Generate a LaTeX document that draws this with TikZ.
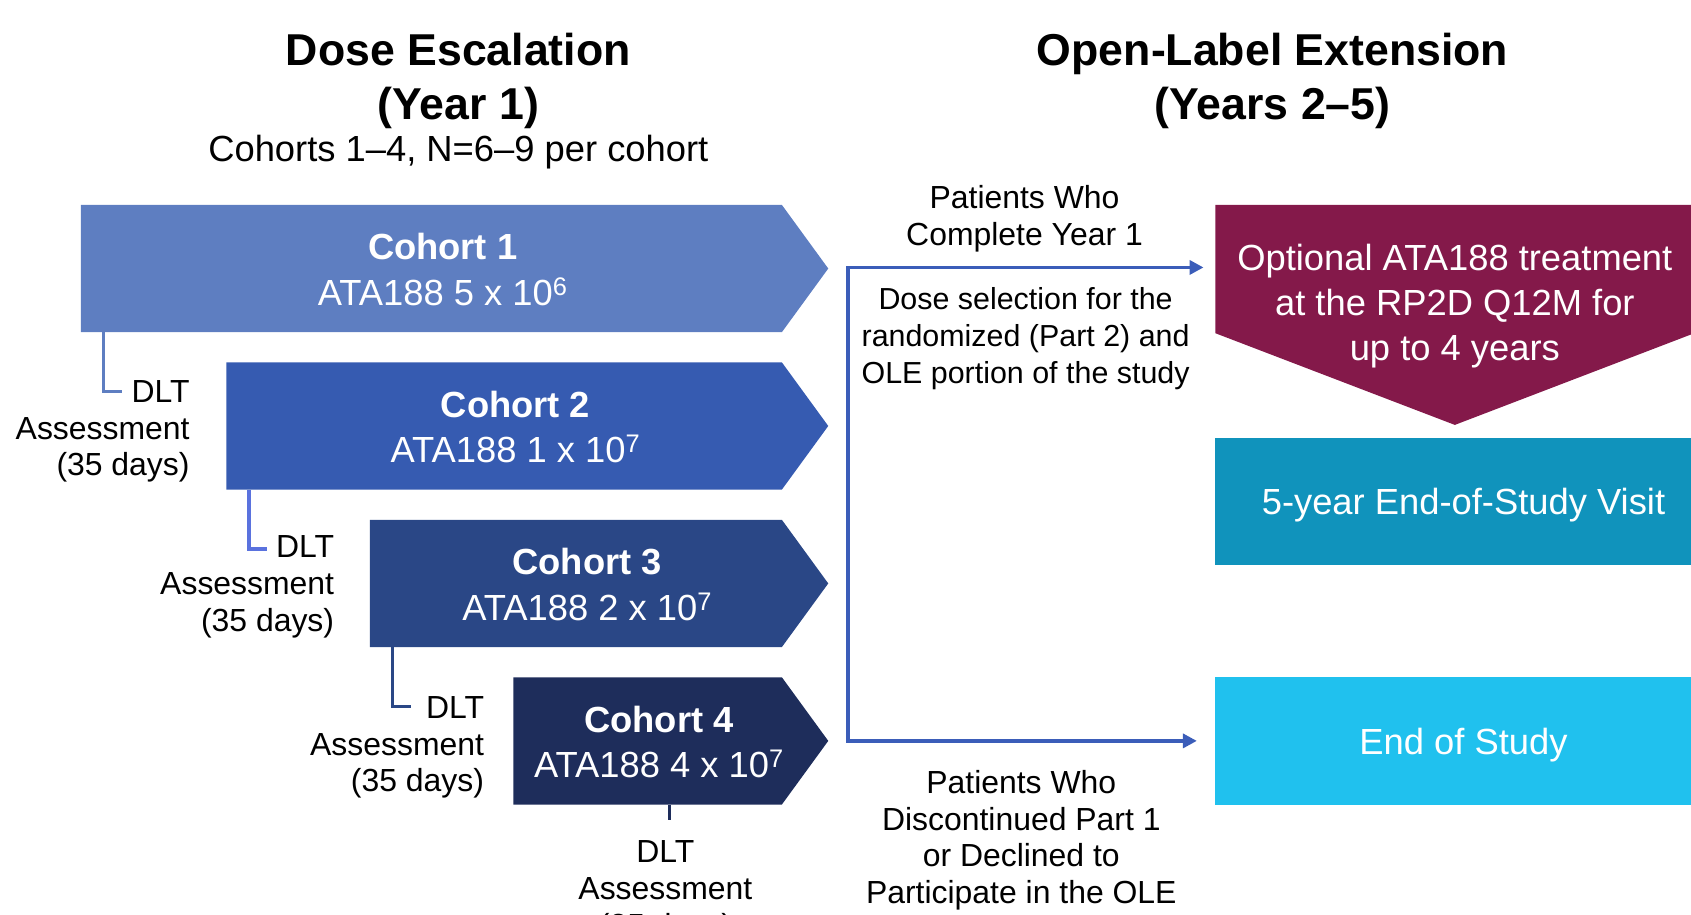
\documentclass[tikz,border=0pt]{standalone}
\usepackage{fontspec}
\setmainfont{Liberation Sans}
\usetikzlibrary{arrows.meta}

\definecolor{cohA}{HTML}{5E7EC1}
\definecolor{cohB}{HTML}{365BB1}
\definecolor{cohC}{HTML}{2A4786}
\definecolor{cohD}{HTML}{1E2D5B}
\definecolor{dltB}{HTML}{5A72DE}
\definecolor{flujo}{HTML}{3B5DB9}
\definecolor{granate}{HTML}{84194A}
\definecolor{petroleo}{HTML}{1093BC}
\definecolor{celeste}{HTML}{20C1EE}

\begin{document}
\begin{tikzpicture}[x=1pt,y=-1pt,
  txt/.style={font=\fontsize{29.6}{34}\selectfont,align=center,inner sep=0pt},
  boxtxt/.style={font=\fontsize{33.7}{42}\selectfont,align=center,inner sep=0pt,text=white},
  titulo/.style={font=\bfseries\fontsize{41.4}{50}\selectfont,align=center,inner sep=0pt},
  dlt/.style={line width=3.2pt},
  flecha/.style={draw=flujo,line width=3.5pt}]
\def\punta{13pt};%largo punta de flecha
\useasboundingbox (0,0) rectangle (1568,848);

%Titulos
\node[titulo] (tesc) at (425,75) {Dose Escalation\\(Year 1)};
\node[txt,font=\fontsize{33.7}{40}\selectfont] (tcoh) at (425,141) {Cohorts 1–4, N=6–9 per cohort};
\node[titulo] (tole) at (1180,75) {Open-Label Extension\\(Years 2–5)};

%Cohortes
\foreach \n/\xl/\yt/\col/\dosis in {1/75/190/cohA/{5 x 10\textsuperscript{6}},2/210/336/cohB/{1 x 10\textsuperscript{7}},3/343/482/cohC/{2 x 10\textsuperscript{7}},4/476/628/cohD/{4 x 10\textsuperscript{7}}}{
    \fill[\col] (\xl,\yt) -- (725,\yt) -- (768,\yt+59) -- (725,\yt+118) -- (\xl,\yt+118) -- cycle;
    \node[boxtxt] (coh\n) at ({(\xl+746)/2},\yt+60) {\textbf{Cohort \n}\\ATA188 \dosis};
    \coordinate (pie\n) at (\xl+21,\yt+118);
}

%Evaluacion DLT
\foreach \n/\xr/\yc/\col in {1/176/400/cohA,2/310/544/dltB,3/449/693/cohC}{
    \node[txt,align=right,anchor=east] (dlt\n) at (\xr,\yc) {DLT\\Assessment\\(35 days)};
    \draw[dlt,\col] (pie\n) |- ++(17,55) coordinate (fin\n);
}
\node[txt] (dlt4) at (617,827) {DLT\\Assessment\\(35 days)};
\draw[dlt,cohD] ([xshift=4pt]pie4 -| dlt4) -- ++(0,14) coordinate (fin4);

%Extension abierta
\fill[granate] (1127,190) -- (1571,190) -- (1571,309) -- (1349,394) -- (1127,309) -- cycle;
\node[boxtxt] (opt) at (1349,284) {Optional ATA188 treatment\\at the RP2D Q12M for\\up to 4 years};
\coordinate (optin) at (1116,248);
\node[boxtxt,text depth=0pt,fill=petroleo,minimum width=460,minimum height=118] (visita) at (1357,465) {5-year End-of-Study Visit};
\node[boxtxt,text depth=0pt,fill=celeste,minimum width=460,minimum height=118] (eos) at (1357,687) {End of Study};

%Flujo de pacientes
\draw[flecha,{Triangle[length=\punta,width=\punta]}-{Triangle[length=\punta,width=\punta]},shorten >=17pt] (optin) -- (786,248) |- (eos.west);
\node[txt] (compl) at (950,203) {Patients Who\\Complete Year 1};
\node[txt,font=\fontsize{28.2}{34}\selectfont] (sel) at (951,314) {Dose selection for the\\randomized (Part 2) and\\OLE portion of the study};
\node[txt] (disc) at (947,779) {Patients Who\\Discontinued Part 1\\or Declined to\\Participate in the OLE};
\end{tikzpicture}
\end{document}
